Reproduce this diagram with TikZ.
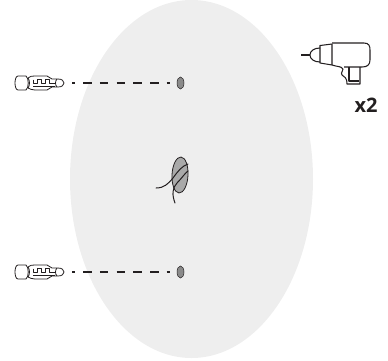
\documentclass[tikz,border=0pt]{standalone}
\usepackage{fontspec}
\setmainfont{Open Sans}
\usetikzlibrary{shapes.geometric}
\definecolor{wallgrey}{HTML}{EEEEEE}
\definecolor{holegrey}{HTML}{8A8A8A}
\definecolor{patchgrey}{HTML}{A9A9A9}
\definecolor{ink}{HTML}{231F20}
\tikzset{
  x=1pt,y=-1pt,
  wall/.style={ellipse,fill=wallgrey,draw=none,inner sep=0pt,minimum width=243pt,minimum height=358pt},
  hole/.style={ellipse,fill=holegrey,draw=ink,line width=.5pt,inner sep=0pt,minimum width=7pt,minimum height=12pt},
  patch/.style={ellipse,fill=patchgrey,draw=ink,line width=.8pt,inner sep=0pt,minimum width=16pt,minimum height=36pt,rotate=-3},
  guide/.style={draw=ink,line width=1.1pt,dash pattern=on 8.5pt off 8.2pt,dash phase=5.5pt,shorten >=7pt},
  wire/.style={draw=ink,line width=1pt,line cap=round},
  outline/.style={draw=ink,line width=.8pt,line join=round},
  drillline/.style={draw=ink,line width=1.05pt,line join=round},
  mult/.style={font=\fontsize{20}{20}\selectfont\bfseries,text=ink,inner sep=0pt}
}
\newcommand{\anchorplug}[1]{%
  \begin{scope}[shift={(0,#1)}]
    \draw[outline,fill=white] (18,-7) -- (26,-7) .. controls (29,-5) and (29,5) .. (26,7) -- (18,7) .. controls (14,7) and (14,-7) .. (18,-7) -- cycle;
    \draw[outline,fill=white] (28,-5) .. controls (30,-7) and (32,-7) .. (35,-7) -- (47,-7) -- (52,-4) -- (58,-4) .. controls (66,-4) and (66,4) .. (58,4) -- (52,4) -- (47,7) -- (35,7) .. controls (32,7) and (30,6) .. (28,5) .. controls (30,2) and (30,-2) .. (28,-5) -- cycle;
    \draw[outline] (33,-3.5) -- (33,0) -- (37,0) -- (37,-3.5) -- (41,-3.5) -- (41,0) -- (45,0) -- (45,-3.5) -- (49,-3.5) -- (49,0) -- (55,0);
    \draw[outline] (33,3) -- (55,3);
    \draw[outline] (57,-4) .. controls (55,-2) and (55,2) .. (57,4);
  \end{scope}}
\begin{document}
\begin{tikzpicture}
\useasboundingbox (0,0) rectangle (388,360);
\node[wall] (wallshape) at (191.5,179) {};
\node[patch] (patchshape) at (180,175) {};
\node[hole] (holetop) at (180.5,83) {};
\node[hole] (holebottom) at (180.5,272) {};
\anchorplug{83}
\anchorplug{272}
\coordinate (plugtop) at (72,83);
\coordinate (plugbottom) at (72,272);
\draw[guide] (plugtop) -- (holetop.west |- plugtop);
\draw[guide] (plugbottom) -- (holebottom.west |- plugbottom);
\draw[wire] (156,188) .. controls (164,188) and (168,184) .. (173,178) .. controls (178,171) and (182,166) .. (188,164);
\draw[wire] (175,203) .. controls (172,195) and (172,188) .. (177,183) .. controls (182,178) and (185,173) .. (188,171);
% drill
\draw[draw=ink,line width=2.2pt] (301,55) -- (310,55);
\draw[drillline,fill=white] (320,48) .. controls (314,48) and (310,51) .. (310,55) .. controls (310,59) and (314,62) .. (320,62);
\draw[drillline] (320,45.5) -- (332,44) -- (332,65) -- (320,63) -- cycle;
\draw[drillline] (332,43) -- (364,43) .. controls (369,43) and (370,46) .. (370,50) -- (370,60) .. controls (370,65) and (367,67) .. (362,67) -- (344,67);
\draw[drillline] (332,65) .. controls (338,67) and (341,66) .. (343,69) .. controls (344,71) and (340,72) .. (342,75) .. controls (344,77) and (347,77) .. (347,84) -- (360,84) -- (360,67);
\draw[drillline] (349,67) -- (349,81) -- (359,81);
\node[mult,anchor=base] (mult) at (366,112) {x2};
\end{tikzpicture}
\end{document}
